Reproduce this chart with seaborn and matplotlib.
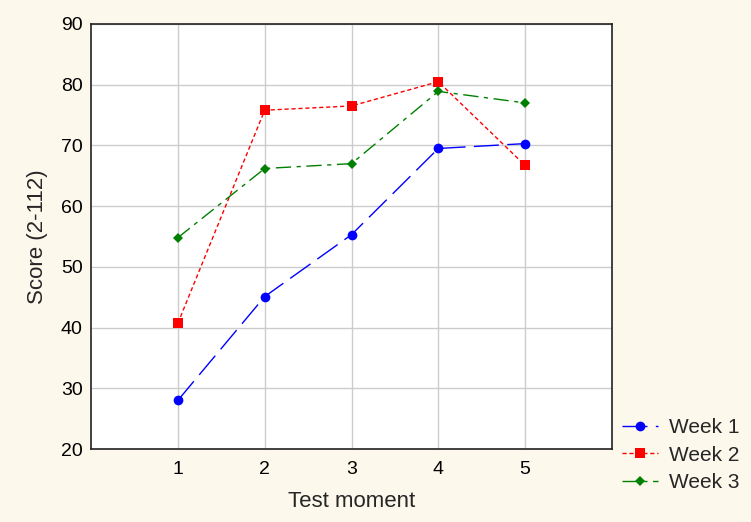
import matplotlib
matplotlib.use("Agg")
import matplotlib.pyplot as plt
import seaborn as sns
import pandas as pd

moments = [1, 2, 3, 4, 5]
week1 = [28.0, 45.1, 55.3, 69.5, 70.3]
week2 = [40.7, 75.8, 76.5, 80.5, 66.7]
week3 = [54.8, 66.2, 67.0, 78.9, 77.0]
series_names = ["Week 1", "Week 2", "Week 3"]

rows = []
for name, vals in zip(series_names, [week1, week2, week3]):
    for m, v in zip(moments, vals):
        rows.append({"Test moment": m, "Score": v, "Series": name})
df = pd.DataFrame(rows)

sns.set_theme(style="white")
plt.rcParams["font.family"] = ["Liberation Sans", "DejaVu Sans"]

bg = "#fdf8ec"
fig = plt.figure(figsize=(7.51, 5.22), dpi=100, facecolor=bg)
ax = fig.add_axes([91/751, 1 - 449/522, (612-91)/751, (449-24)/522])
ax.set_facecolor("white")

palette = {"Week 1": "#0000ff", "Week 2": "#ff0000", "Week 3": "#008000"}
markers = {"Week 1": "o", "Week 2": "s", "Week 3": "D"}
dashes = {"Week 1": (18, 6), "Week 2": (3, 2), "Week 3": (11, 4, 3, 4)}
sizes_m = {"Week 1": 7, "Week 2": 6.5, "Week 3": 5}

for name in series_names:
    sub = df[df["Series"] == name]
    sns.lineplot(data=sub, x="Test moment", y="Score", ax=ax, color=palette[name],
                 marker=markers[name], markersize=sizes_m[name], markeredgewidth=0,
                 dashes=dashes[name], linewidth=1, label=name, legend=False)

ax.set_xlim(0, 6)
ax.set_ylim(20, 90)
ax.set_xticks(moments)
ax.set_yticks(range(20, 91, 10))
ax.grid(True, color="#cccccc", linewidth=1)
ax.set_axisbelow(True)
for s in ax.spines.values():
    s.set_color("#222222")
    s.set_linewidth(1.2)
ax.tick_params(axis="both", labelsize=14, colors="#000000", length=0)
ax.tick_params(axis="y", pad=6)
ax.tick_params(axis="x", pad=9)
ax.set_xlabel("Test moment", fontsize=16, labelpad=9)
ax.set_ylabel("Score (2-112)", fontsize=16, labelpad=9)

handles, labels = ax.get_legend_handles_labels()
fig.legend(handles, labels, loc="upper left", bbox_to_anchor=(622/751, 1 - 418/522),
           frameon=False, fontsize=15, handlelength=1.75, handletextpad=0.5,
           labelspacing=0.42, borderaxespad=0, borderpad=0)

fig.savefig("out.png", dpi=100, facecolor=bg)
